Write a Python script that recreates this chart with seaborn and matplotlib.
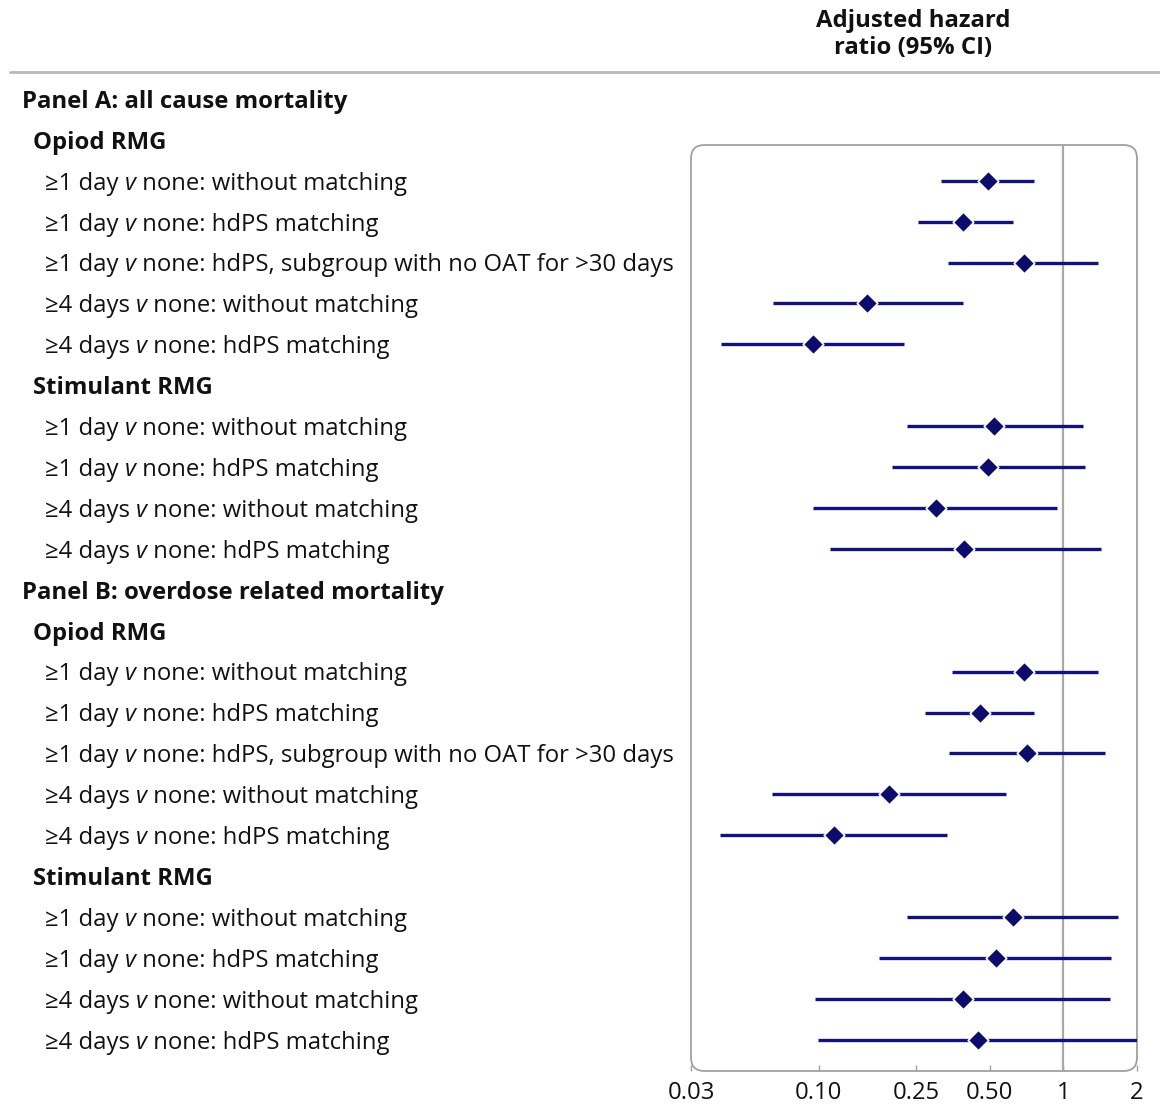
import numpy as np
import pandas as pd
import matplotlib
matplotlib.use("Agg")
import matplotlib.pyplot as plt
import seaborn as sns
from matplotlib.patches import FancyBboxPatch
from matplotlib.lines import Line2D
from matplotlib import transforms

# -------------------------------
# DATOS
# -------------------------------
header = ["Adjusted hazard", "ratio (95% CI)"]

row_labels = [
    "Panel A: all cause mortality",
    "Opiod RMG",
    "≥1 day v none: without matching",
    "≥1 day v none: hdPS matching",
    "≥1 day v none: hdPS, subgroup with no OAT for >30 days",
    "≥4 days v none: without matching",
    "≥4 days v none: hdPS matching",
    "Stimulant RMG",
    "≥1 day v none: without matching",
    "≥1 day v none: hdPS matching",
    "≥4 days v none: without matching",
    "≥4 days v none: hdPS matching",
    "Panel B: overdose related mortality",
    "Opiod RMG",
    "≥1 day v none: without matching",
    "≥1 day v none: hdPS matching",
    "≥1 day v none: hdPS, subgroup with no OAT for >30 days",
    "≥4 days v none: without matching",
    "≥4 days v none: hdPS matching",
    "Stimulant RMG",
    "≥1 day v none: without matching",
    "≥1 day v none: hdPS matching",
    "≥4 days v none: without matching",
    "≥4 days v none: hdPS matching",
]
# 0 panel, 1 subgrupo, 2 comparacion
row_levels = [0, 1, 2, 2, 2, 2, 2, 1, 2, 2, 2, 2,
              0, 1, 2, 2, 2, 2, 2, 1, 2, 2, 2, 2]

# filas con estimacion
est_rows = [2, 3, 4, 5, 6, 8, 9, 10, 11,
            14, 15, 16, 17, 18, 20, 21, 22, 23]
hr = [0.49, 0.39, 0.687, 0.158, 0.0945, 0.518, 0.494, 0.30, 0.394,
      0.693, 0.454, 0.713, 0.193, 0.115, 0.62, 0.528, 0.387, 0.446]
ci_low = [0.315, 0.254, 0.336, 0.065, 0.0398, 0.229, 0.200, 0.0945, 0.111,
          0.349, 0.271, 0.34, 0.0643, 0.0394, 0.229, 0.177, 0.0964, 0.099]
ci_high = [0.76, 0.62, 1.39, 0.39, 0.222, 1.20, 1.22, 0.945, 1.42,
           1.39, 0.76, 1.48, 0.58, 0.333, 1.68, 1.57, 1.55, 2.2]

ticks = [0.03, 0.10, 0.25, 0.50, 1, 2]
tick_labels = ["0.03", "0.10", "0.25", "0.50", "1", "2"]

df = pd.DataFrame({"row": est_rows, "hr": hr, "lo": ci_low, "hi": ci_high})

# -------------------------------
# ESTILO
# -------------------------------
sns.set_theme(style="white")
plt.rcParams["font.family"] = ["Open Sans", "DejaVu Sans"]

navy = "#12127a"
txt = "#111111"
fs = 17.2
W, H = 1160, 1105
fig = plt.figure(figsize=(W / 100, H / 100), dpi=100)

# caja del grafico (pixeles)
x0, x1, y0, y1 = 691, 1137, 145, 1071
ax = fig.add_axes([x0 / W, 1 - y1 / H, (x1 - x0) / W, (y1 - y0) / H])

row_y0, row_step = 99, 40.9
ax.set_xscale("log")
ax.set_xlim(0.03, 2)
ax.set_ylim((y1 - row_y0) / row_step, (y0 - row_y0) / row_step)

ax.axvline(1, color="#a8a8a8", lw=1.6, zorder=1)
ax.hlines(df["row"], df["lo"], df["hi"], color=navy, lw=2.4, zorder=2)
sns.scatterplot(data=df, x="hr", y="row", marker="D", s=110, color="#0c0c6c",
                edgecolor="white", linewidth=1.2, zorder=3, ax=ax, legend=False)

for s in ax.spines.values():
    s.set_visible(False)
box = FancyBboxPatch((0, 0), 1, 1, boxstyle="round,pad=0,rounding_size=0.03",
                     mutation_aspect=(x1 - x0) / (y1 - y0),
                     transform=ax.transAxes, facecolor="none",
                     edgecolor="#a0a0a0", lw=1.3, clip_on=False, zorder=0)
ax.add_patch(box)

ax.set_xticks(ticks)
ax.set_xticklabels(tick_labels)
ax.xaxis.set_minor_locator(matplotlib.ticker.NullLocator())
ax.tick_params(axis="x", bottom=True, length=4, width=1, color="#a0a0a0",
               direction="in", labelsize=fs, pad=7, labelcolor=txt)
ax.set_yticks([])
ax.set_xlabel("")
ax.set_ylabel("")

# etiquetas de filas
trans = transforms.blended_transform_factory(fig.transFigure, ax.transData)
indent = {0: 22, 1: 33, 2: 45}
dy = 0.07
for i, (lab, lev) in enumerate(zip(row_labels, row_levels)):
    weight = "bold" if lev < 2 else "normal"
    if " v " in lab:
        pre, post = lab.split(" v ", 1)
        t1 = ax.text(indent[lev] / W, i + dy, pre + " ", transform=trans,
                     ha="left", va="center", fontsize=fs, color=txt)
        t2 = ax.annotate("v", xy=(1, 0), xycoords=t1, ha="left", va="bottom",
                         fontsize=fs, color=txt, style="italic")
        ax.annotate(" " + post, xy=(1, 0), xycoords=t2, ha="left", va="bottom",
                    fontsize=fs, color=txt)
    else:
        ax.text(indent[lev] / W, i + dy, lab, transform=trans, ha="left",
                va="center", fontsize=fs, color=txt, fontweight=weight)

# cabecera
fig.text(913 / W, 1 - 21 / H, header[0], ha="center", va="center",
         fontsize=fs, fontweight="bold", color=txt)
fig.text(913 / W, 1 - 48 / H, header[1], ha="center", va="center",
         fontsize=fs, fontweight="bold", color=txt)
fig.add_artist(Line2D([10 / W, 1], [1 - 72 / H] * 2, transform=fig.transFigure,
                      color="#b8b8b8", lw=2))

fig.savefig("out.png", dpi=100)
